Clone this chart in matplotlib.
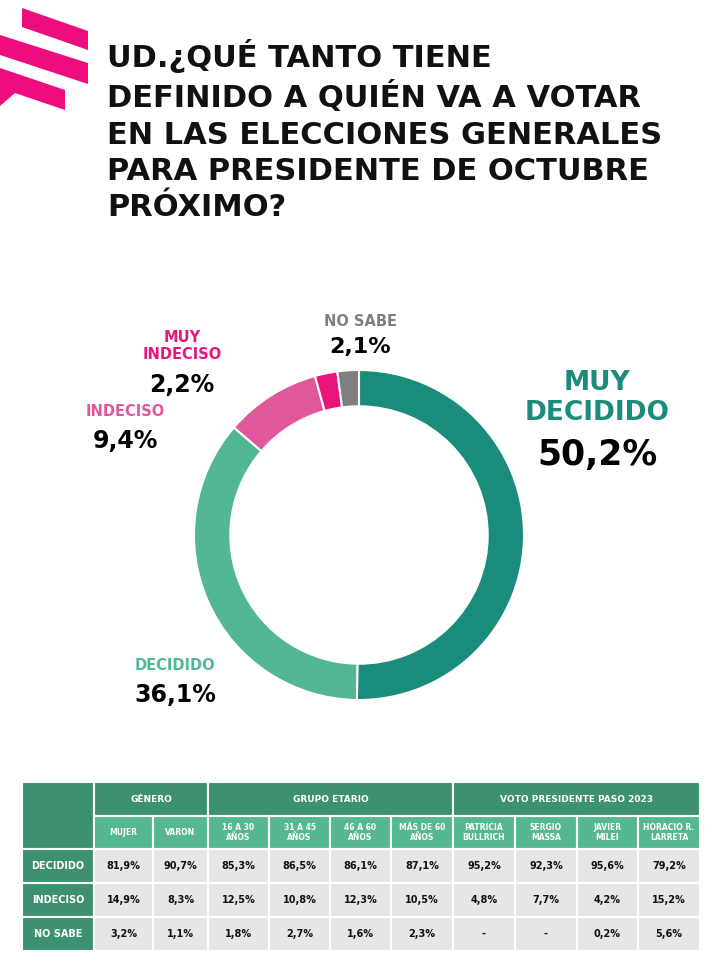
import numpy as np
import matplotlib.pyplot as plt
from matplotlib.patches import Polygon, Rectangle

W, H = 719, 965

# donut data
labels = ["MUY\nDECIDIDO", "DECIDIDO", "INDECISO", "MUY\nINDECISO", "NO SABE"]
shares = [50.2, 36.1, 9.4, 2.2, 2.1]
colors = ["#1a8c7c", "#52b792", "#e0589a", "#e8157a", "#7f7f7f"]

# table data
groups = ["GÉNERO", "GRUPO ETARIO", "VOTO PRESIDENTE PASO 2023"]
group_span = [2, 4, 4]
columns = ["MUJER", "VARON", "16 A 30\nAÑOS", "31 A 45\nAÑOS", "46 A 60\nAÑOS",
           "MÁS DE 60\nAÑOS", "PATRICIA\nBULLRICH", "SERGIO\nMASSA", "JAVIER\nMILEI",
           "HORACIO R.\nLARRETA"]
rows = ["DECIDIDO", "INDECISO", "NO SABE"]
decidido = [81.9, 90.7, 85.3, 86.5, 86.1, 87.1, 95.2, 92.3, 95.6, 79.2]
indeciso = [14.9, 8.3, 12.5, 10.8, 12.3, 10.5, 4.8, 7.7, 4.2, 15.2]
no_sabe = [3.2, 1.1, 1.8, 2.7, 1.6, 2.3, None, None, 0.2, 5.6]

title = "UD.¿QUÉ TANTO TIENE\nDEFINIDO A QUIÉN VA A VOTAR\nEN LAS ELECCIONES GENERALES\nPARA PRESIDENTE DE OCTUBRE\nPRÓXIMO?"

DARK = "#3d9070"
LIGHT = "#55b890"
GREY = "#e6e6e6"
PINK = "#ee0d7e"
FONT = "DejaVu Sans"


def pct(v):
    if v is None:
        return "-"
    return f"{v:.1f}".replace(".", ",") + "%"


fig = plt.figure(figsize=(W / 100, H / 100), dpi=100)
ax = fig.add_axes([0, 0, 1, 1])
ax.set_xlim(0, W)
ax.set_ylim(H, 0)
ax.axis("off")

# logo stripes
logo = [
    [(22, 8), (88, 31), (88, 50), (22, 27)],
    [(0, 35), (88, 63), (88, 84), (0, 55)],
    [(0, 68), (65, 90), (65, 110), (15, 93), (0, 106)],
]
for pts in logo:
    ax.add_patch(Polygon(pts, closed=True, color=PINK, lw=0))

# title
ax.text(107, 39, title, ha="left", va="top", fontsize=22, fontweight="bold",
        family=FONT, color="#111111", linespacing=1.32)

# donut
cx, cy, r = 359, 535, 165
pax = fig.add_axes([(cx - r) / W, 1 - (cy + r) / H, 2 * r / W, 2 * r / H])
pax.pie(shares, colors=colors, startangle=90, counterclock=False, radius=1,
        wedgeprops=dict(width=0.22, edgecolor="white", linewidth=1.5))
pax.set_xlim(-1, 1)
pax.set_ylim(-1, 1)
pax.axis("off")

# donut labels
lab_pos = [(597, 398, 19, 455, 25),
           (175, 666, 10.5, 695, 17),
           (125, 412, 10.5, 441, 17),
           (182, 346, 10.5, 385, 17),
           (360, 321, 10.5, 347, 16)]
for lab, val, col, (x, ly, lfs, vy, vfs) in zip(labels, shares, colors, lab_pos):
    ax.text(x, ly, lab, ha="center", va="center", fontsize=lfs, fontweight="bold",
            family=FONT, color=col, linespacing=1.15)
    ax.text(x, vy, pct(val), ha="center", va="center", fontsize=vfs,
            fontweight="bold", family=FONT, color="#000000")

# table
xs = [22, 94, 153, 208, 269, 330, 391, 453, 515, 577, 638, 700]
ys = [782, 816, 849, 883, 917, 951]


def cell(x0, x1, y0, y1, fc):
    ax.add_patch(Rectangle((x0, y0), x1 - x0, y1 - y0, facecolor=fc,
                           edgecolor="white", lw=1.5))


cell(xs[0], xs[1], ys[0], ys[2], DARK)
c = 1
for g, span in zip(groups, group_span):
    cell(xs[c], xs[c + span], ys[0], ys[1], DARK)
    ax.text((xs[c] + xs[c + span]) / 2, (ys[0] + ys[1]) / 2, g, ha="center",
            va="center", fontsize=6.5, fontweight="bold", family=FONT, color="white")
    c += span

for j, name in enumerate(columns):
    cell(xs[j + 1], xs[j + 2], ys[1], ys[2], LIGHT)
    ax.text((xs[j + 1] + xs[j + 2]) / 2, (ys[1] + ys[2]) / 2, name, ha="center",
            va="center", fontsize=5.5, fontweight="bold", family=FONT, color="white",
            linespacing=1.15)

for i, (rname, vals) in enumerate(zip(rows, [decidido, indeciso, no_sabe])):
    y0, y1 = ys[i + 2], ys[i + 3]
    cell(xs[0], xs[1], y0, y1, DARK)
    ax.text((xs[0] + xs[1]) / 2, (y0 + y1) / 2, rname, ha="center", va="center",
            fontsize=7, fontweight="bold", family=FONT, color="white")
    for j, v in enumerate(vals):
        cell(xs[j + 1], xs[j + 2], y0, y1, GREY)
        ax.text((xs[j + 1] + xs[j + 2]) / 2, (y0 + y1) / 2, pct(v), ha="center",
                va="center", fontsize=7, fontweight="bold", family=FONT,
                color="#111111")

fig.savefig("out.png", dpi=100)
